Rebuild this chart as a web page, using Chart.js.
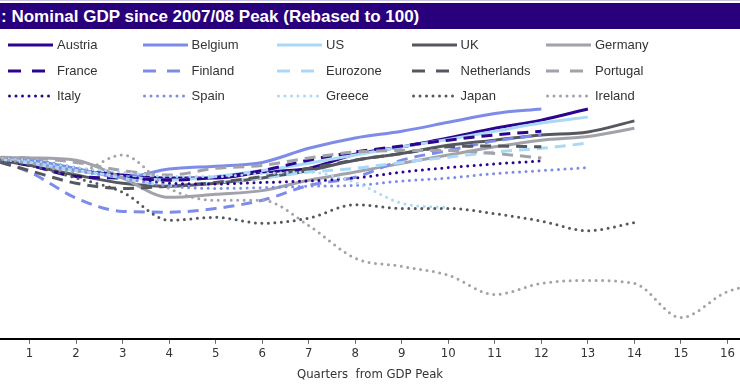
<!DOCTYPE html>
<html>
<head>
<meta charset="utf-8">
<script src="https://cdn.jsdelivr.net/npm/chart.js@4.4.0/dist/chart.umd.min.js"></script>
<style>
  html, body { margin: 0; padding: 0; background: #fff; }
  #wrap { position: relative; width: 740px; height: 389px; overflow: hidden; font-family: "Liberation Sans", Arial, sans-serif; }
  #topline { position: absolute; left: 0; top: 0; width: 740px; height: 1px; background: #c9c0e2; }
  #title { position: absolute; left: 0; top: 3px; width: 740px; height: 26px; background: #29007c; color: #fff;
           font-weight: bold; font-size: 17px; line-height: 27px; padding-left: 1px; white-space: nowrap; }
  .item { position: absolute; font-size: 13px; color: #333; white-space: nowrap; line-height: 16px; }
  .item svg { position: absolute; left: 0; top: 0; }
  canvas { position: absolute; left: 0; top: 0; }
</style>
</head>
<body>
<div id="wrap">
  <canvas id="chart" width="740" height="389"></canvas>
  <div id="topline"></div>
  <div id="title">: Nominal GDP since 2007/08 Peak (Rebased to 100)</div>
  <div id="legend"></div>
</div>
<script>
// quarters from the GDP peak
const quarters = [0, 1, 2, 3, 4, 5, 6, 7, 8, 9, 10, 11, 12, 13, 14, 15, 16, 17];
const tickValues = [1, 2, 3, 4, 5, 6, 7, 8, 9, 10, 11, 12, 13, 14, 15, 16];

// nominal GDP, peak = 100
const austria = [100, 99.3, 98.2, 97.6, 97.2, 97.2, 98.0, 98.5, 100.4, 101.4, 102.6, 103.9, 105.0, 106.5];
const belgium = [100, 99.6, 98.5, 97.3, 98.4, 98.8, 99.3, 101.2, 102.6, 103.5, 104.7, 105.9, 106.5];
const us = [100, 99.3, 98.2, 97.4, 96.9, 97.4, 98.2, 99.2, 100.3, 101.4, 102.4, 103.5, 104.6, 105.4];
const uk = [100, 98.9, 97.6, 96.5, 96.1, 96.5, 97.2, 98.2, 99.6, 100.5, 101.6, 102.3, 103.0, 103.4, 104.9];
const germany = [100, 99.9, 99.6, 97.2, 94.6, 95.0, 95.5, 96.9, 98.0, 99.2, 100.3, 101.4, 102.3, 102.8, 103.9];
const france = [100, 98.9, 97.4, 97.2, 96.9, 97.3, 98.2, 99.6, 100.7, 101.5, 102.3, 103.0, 103.5];
const finland = [100, 98.0, 94.5, 92.7, 92.6, 93.1, 94.2, 96.2, 97.3, 99.6, 100.9, 102.2, 103.0];
const eurozone = [100, 99.2, 98.2, 97.2, 96.2, 96.6, 97.2, 98.0, 98.5, 99.3, 100.0, 100.7, 101.2, 101.9];
const netherlands = [100, 98.2, 96.5, 95.8, 96.1, 96.6, 97.4, 98.5, 99.6, 100.5, 101.4, 101.5, 101.4];
const portugal = [100, 99.9, 99.3, 98.2, 97.6, 98.5, 98.9, 99.9, 100.7, 100.9, 100.9, 100.5, 99.9];
const italy = [100, 99.6, 98.6, 97.6, 96.5, 96.4, 96.6, 96.8, 97.2, 98.0, 98.6, 99.1, 99.5];
const spain = [100, 99.3, 98.2, 97.2, 96.1, 95.8, 95.9, 96.1, 96.2, 96.8, 97.2, 97.8, 98.2, 98.6];
const greece = [100, 99.6, 98.6, 98.0, 97.4, 97.4, 97.8, 98.0, 96.6, 93.8, 93.2];
const japan = [100, 98.9, 97.2, 95.3, 91.5, 91.9, 91.1, 91.8, 93.6, 93.1, 93.1, 92.4, 91.4, 90.1, 91.2];
const ireland = [100, 99.2, 98.0, 100.3, 95.8, 94.2, 94.2, 90.8, 86.4, 85.3, 84.1, 81.5, 83.0, 83.4, 83.0, 78.4, 81.9, 83.1];

const PURPLE = "#2b0590";
const PERI = "#7d8ce9";
const LBLUE = "#aad9f7";
const DGREY = "#55585f";
const LGREY = "#a2a2aa";

const DASH = [11, 7];
const DOT = [0, 6.5];

// legend order: row by row, 5 columns
const series = [
  { name: "Austria", data: austria, color: PURPLE, dash: [] },
  { name: "Belgium", data: belgium, color: PERI, dash: [] },
  { name: "US", data: us, color: LBLUE, dash: [] },
  { name: "UK", data: uk, color: DGREY, dash: [] },
  { name: "Germany", data: germany, color: LGREY, dash: [] },
  { name: "France", data: france, color: PURPLE, dash: DASH },
  { name: "Finland", data: finland, color: PERI, dash: DASH },
  { name: "Eurozone", data: eurozone, color: LBLUE, dash: DASH },
  { name: "Netherlands", data: netherlands, color: DGREY, dash: DASH },
  { name: "Portugal", data: portugal, color: LGREY, dash: DASH },
  { name: "Italy", data: italy, color: PURPLE, dash: DOT },
  { name: "Spain", data: spain, color: PERI, dash: DOT },
  { name: "Greece", data: greece, color: LBLUE, dash: DOT },
  { name: "Japan", data: japan, color: DGREY, dash: DOT },
  { name: "Ireland", data: ireland, color: LGREY, dash: DOT },
];

// html legend
const legend = document.getElementById("legend");
series.forEach((s, i) => {
  const col = i % 5, row = Math.floor(i / 5);
  const el = document.createElement("div");
  el.className = "item";
  el.style.left = (8 + col * 134.5) + "px";
  el.style.top = (37 + row * 25.5) + "px";
  const dashAttr = s.dash.length ? ` stroke-dasharray="${s.dash[0] === 0 ? "0 6.5" : "13 11"}"` : "";
  const cap = s.dash[0] === 0 ? "round" : "butt";
  el.innerHTML = `<svg width="46" height="16"><line x1="${cap === "round" ? 1.5 : 0}" y1="8" x2="45" y2="8" stroke="${s.color}" stroke-width="3" stroke-linecap="${cap}"${dashAttr}/></svg><span style="margin-left:49px">${s.name}</span>`;
  legend.appendChild(el);
});

const axisFont = { family: '"Liberation Sans Narrow", "DejaVu Sans Condensed", "Liberation Sans", sans-serif', size: 13 };

new Chart(document.getElementById("chart"), {
  type: "line",
  data: {
    datasets: series.map((s, i) => ({
      label: s.name,
      data: s.data.map((v, j) => ({ x: quarters[j], y: v })),
      borderColor: s.color,
      borderWidth: 3,
      borderDash: s.dash,
      borderCapStyle: s.dash === DOT ? "round" : "butt",
      pointRadius: 0,
      cubicInterpolationMode: "monotone",
      fill: false,
      order: -i,
    })),
  },
  options: {
    responsive: false,
    devicePixelRatio: 1,
    animation: false,
    events: [],
    layout: { padding: { top: 106, left: 0, right: 0, bottom: 7 } },
    plugins: { legend: { display: false }, tooltip: { enabled: false } },
    scales: {
      x: {
        type: "linear",
        min: 0.365,
        max: 16.27,
        afterBuildTicks: (scale) => {
          scale.ticks = tickValues.map((v) => ({ value: v }));
        },
        ticks: { font: axisFont, color: "#333", padding: 2, autoSkip: false, maxRotation: 0 },
        grid: { display: true, drawOnChartArea: false, tickLength: 5, color: "#666" },
        border: { color: "#000", width: 2 },
        title: {
          display: true,
          text: "Quarters  from GDP Peak",
          font: { ...axisFont, size: 13 },
          color: "#333",
          padding: { top: 3, bottom: 0 },
        },
      },
      y: { display: false, min: 75.54, max: 106.9 },
    },
  },
});
</script>
</body>
</html>
